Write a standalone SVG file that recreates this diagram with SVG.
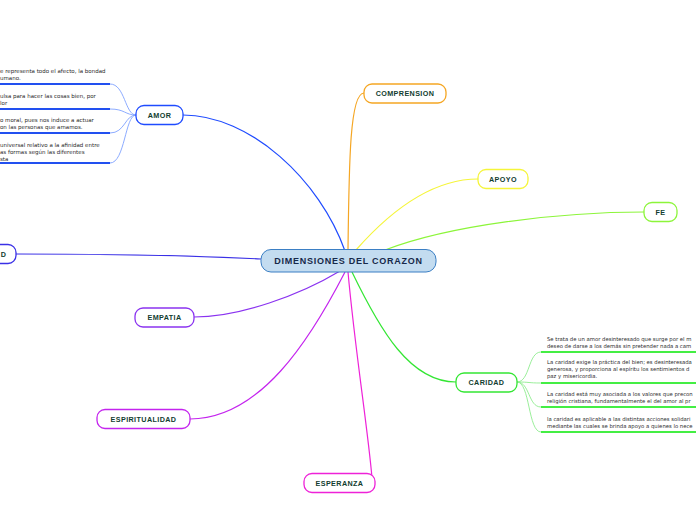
<svg xmlns="http://www.w3.org/2000/svg" width="696" height="520" viewBox="0 0 696 520">
<style>
.n{fill:#fff;stroke-width:1.3}
.t{font-family:"Liberation Sans",Arial,sans-serif;font-weight:bold;font-size:7.2px;fill:#123d30;text-anchor:middle;letter-spacing:0.4px}
.s{font-family:"DejaVu Sans",Verdana,sans-serif;font-size:5.5px;fill:#2a2a2a}
.s2{font-family:"DejaVu Sans",Verdana,sans-serif;font-size:5.3px;fill:#2a2a2a}
.c{fill:none;stroke-width:1.2}
.ul{stroke-width:2}
</style>
<rect width="696" height="520" fill="#fff"/>
<g id="connectors">
<path class="c" stroke="#1f4bff" d="M345 251 C320 180,250 115,183 115"/>
<path class="c" stroke="#f5a623" d="M348 250 C349 160,350 93,364 93"/>
<path class="c" stroke="#f5f53a" d="M356 250 C400 200,440 179,478 179"/>
<path class="c" stroke="#8cf53a" d="M385 250 C450 225,560 212,644 212"/>
<path class="c" stroke="#3a30e6" d="M261 259 C200 256,100 254,16 254"/>
<path class="c" stroke="#8a33f0" d="M340 271 C300 295,240 317,194 317"/>
<path class="c" stroke="#c424ee" d="M345 272 C310 340,260 419,190 419"/>
<path class="c" stroke="#ee22d8" d="M348 272 C355 350,368 430,372 478"/>
<path class="c" stroke="#33e633" d="M352 272 C380 330,410 382,456 382"/>
<g stroke="#7fa2ff" fill="none" stroke-width="0.9">
<path d="M136 115 C125 115,125 84,110 84"/>
<path d="M136 115 C125 115,125 109,110 109"/>
<path d="M136 115 C125 115,125 133,110 133"/>
<path d="M136 115 C125 115,125 163,110 163"/>
</g>
<g stroke="#8fec8f" fill="none" stroke-width="0.9">
<path d="M517 382 C530 382,528 352,541 352"/>
<path d="M517 382 C530 382,528 383,541 383"/>
<path d="M517 382 C530 382,528 407,541 407"/>
<path d="M517 382 C530 382,528 432,541 432"/>
</g>
</g>
<g id="center">
<rect x="261" y="249.5" width="175" height="22.5" rx="10" fill="#c3dcf0" stroke="#3b7fc4" stroke-width="1"/>
<text x="348.5" y="264.2" style="font-family:'Liberation Sans',Arial,sans-serif;font-weight:bold;font-size:9px;fill:#17294a;text-anchor:middle;letter-spacing:0.75px">DIMENSIONES DEL CORAZON</text>
</g>
<g id="amor">
<rect class="n" x="136" y="105.5" width="47" height="19" rx="8" stroke="#1f4bff"/>
<text class="t" x="159.5" y="117.6">AMOR</text>
</g>
<g id="amor-items">
<line class="ul" x1="0" y1="84" x2="110" y2="84" stroke="#2250f0"/>
<line class="ul" x1="0" y1="109" x2="110" y2="109" stroke="#2250f0"/>
<line class="ul" x1="0" y1="133" x2="110" y2="133" stroke="#2250f0"/>
<line class="ul" x1="0" y1="163" x2="110" y2="163" stroke="#2250f0"/>
<text class="s" x="0" y="73">e representa todo el afecto, la bondad</text>
<text class="s" x="0" y="80">umano.</text>
<text class="s" x="0" y="98">ulsa para hacer las cosas bien, por</text>
<text class="s" x="0" y="105">lor</text>
<text class="s" x="0" y="122">o moral, pues nos induce a actuar</text>
<text class="s" x="0" y="129">on las personas que amamos.</text>
<text class="s" x="0" y="147">universal relativo a la afinidad entre</text>
<text class="s" x="0" y="154">as formas según las diferentes</text>
<text class="s" x="0" y="161">sta</text>
</g>
<g id="comprension">
<rect class="n" x="364" y="84" width="82" height="19" rx="8" stroke="#f5a623"/>
<text class="t" x="405" y="96.1">COMPRENSION</text>
</g>
<g id="apoyo">
<rect class="n" x="478" y="169.5" width="50" height="19" rx="8" stroke="#f5f53a"/>
<text class="t" x="503" y="181.6">APOYO</text>
</g>
<g id="fe">
<rect class="n" x="644" y="202.5" width="33" height="19" rx="8" stroke="#8cf53a"/>
<text class="t" x="660.5" y="214.6">FE</text>
</g>
<g id="left-node">
<rect class="n" x="-50" y="244.5" width="66" height="19" rx="8" stroke="#3a30e6"/>
<text class="t" x="3.5" y="256.6">D</text>
</g>
<g id="empatia">
<rect class="n" x="135" y="308" width="59" height="19" rx="8" stroke="#8a33f0"/>
<text class="t" x="164.5" y="320.1">EMPATIA</text>
</g>
<g id="espiritualidad">
<rect class="n" x="97" y="409.5" width="93" height="19" rx="8" stroke="#c424ee"/>
<text class="t" x="143.5" y="421.6">ESPIRITUALIDAD</text>
</g>
<g id="esperanza">
<rect class="n" x="304" y="473.5" width="71" height="19" rx="8" stroke="#ee22d8"/>
<text class="t" x="339.5" y="485.6">ESPERANZA</text>
</g>
<g id="caridad">
<rect class="n" x="456" y="373" width="61" height="19" rx="8" stroke="#33e633"/>
<text class="t" x="486.5" y="385.1">CARIDAD</text>
</g>
<g id="caridad-items">
<line class="ul" x1="541" y1="352" x2="696" y2="352" stroke="#44ee44"/>
<line class="ul" x1="541" y1="383" x2="696" y2="383" stroke="#44ee44"/>
<line class="ul" x1="541" y1="407" x2="696" y2="407" stroke="#44ee44"/>
<line class="ul" x1="541" y1="432" x2="696" y2="432" stroke="#44ee44"/>
<text class="s2" x="547" y="341">Se trata de un amor desinteresado que surge por el m</text>
<text class="s2" x="547" y="348">deseo de darse a los demás sin pretender nada a cam</text>
<text class="s2" x="547" y="364">La caridad exige la práctica del bien; es desinteresada</text>
<text class="s2" x="547" y="371">generosa, y proporciona al espíritu los sentimientos d</text>
<text class="s2" x="547" y="378">paz y misericordia.</text>
<text class="s2" x="547" y="396">La caridad está muy asociada a los valores que precon</text>
<text class="s2" x="547" y="403">religión cristiana, fundamentalmente el del amor al pr</text>
<text class="s2" x="547" y="421">la caridad es aplicable a las distintas acciones solidari</text>
<text class="s2" x="547" y="428">mediante las cuales se brinda apoyo a quienes lo nece</text>
</g>
</svg>
